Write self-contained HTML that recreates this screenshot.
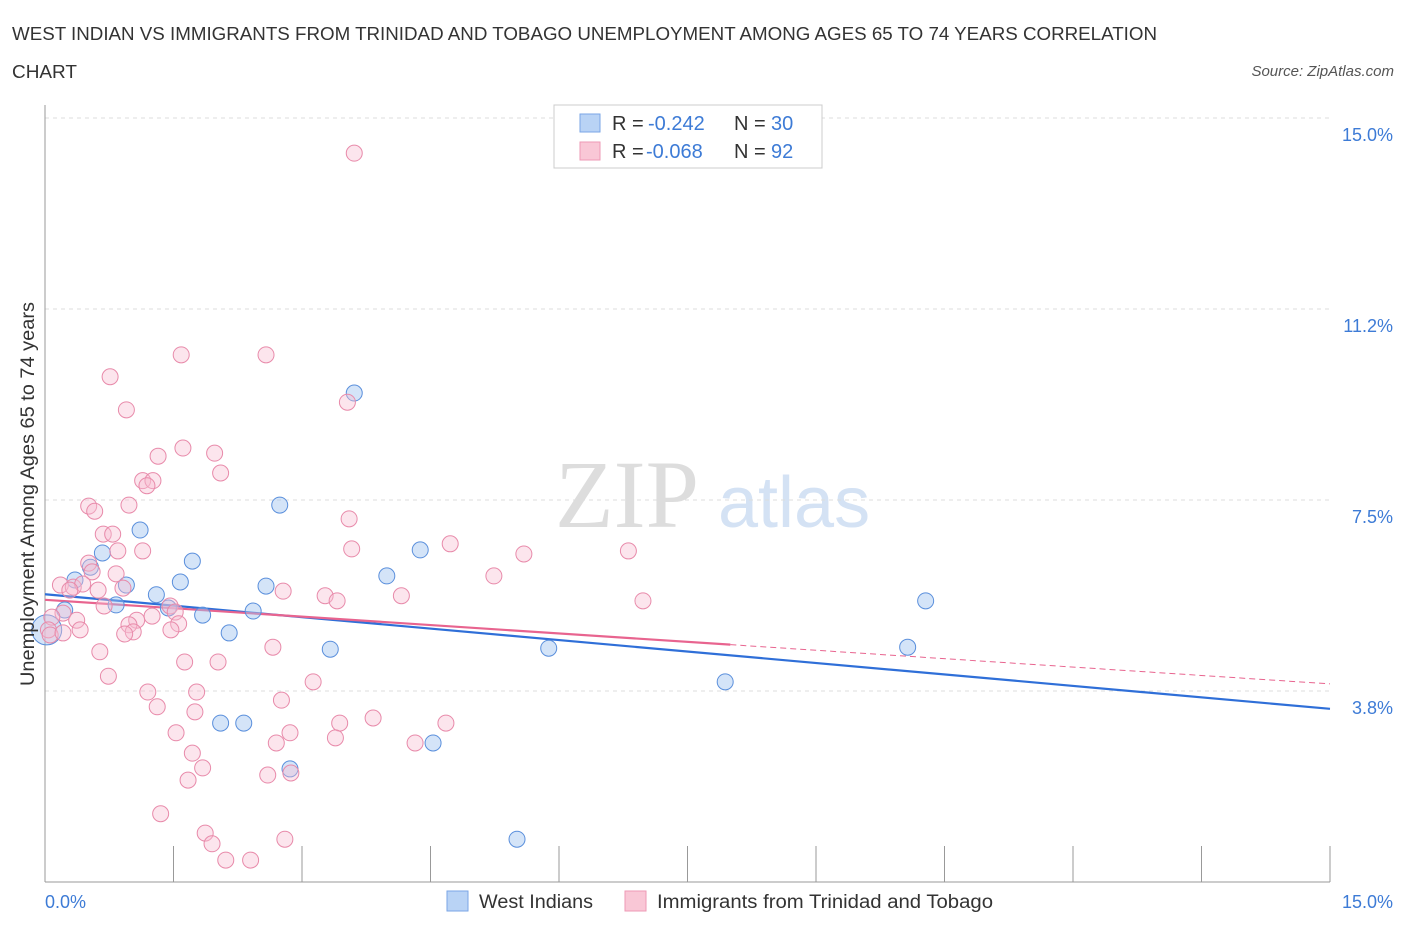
<!DOCTYPE html>
<html><head><meta charset="utf-8"><style>
body{margin:0;background:#fff;font-family:"Liberation Sans",sans-serif;}
</style></head><body>
<svg id="chart" width="1406" height="930" xmlns="http://www.w3.org/2000/svg" font-family="Liberation Sans, sans-serif">
<text x="12" y="40" font-size="18.5" fill="#333" textLength="1145" lengthAdjust="spacingAndGlyphs">WEST INDIAN VS IMMIGRANTS FROM TRINIDAD AND TOBAGO UNEMPLOYMENT AMONG AGES 65 TO 74 YEARS CORRELATION</text>
<text x="12" y="78" font-size="18.5" fill="#333" textLength="65" lengthAdjust="spacingAndGlyphs">CHART</text>
<text x="1394" y="76" font-size="15" fill="#555" text-anchor="end" font-style="italic">Source: ZipAtlas.com</text>
<text x="555" y="527" font-size="96" fill="#ddd" font-family="Liberation Serif, serif">ZIP</text>
<text x="718" y="527" font-size="72" fill="#d4e2f4">atlas</text>
<g id="grid"></g><g id="axes"></g><g id="lines"></g><g id="points"></g>
<text transform="translate(34,494) rotate(-90)" font-size="19" fill="#333" text-anchor="middle" textLength="384" lengthAdjust="spacingAndGlyphs">Unemployment Among Ages 65 to 74 years</text>
<text x="45" y="908" font-size="18" fill="#3d7bd6">0.0%</text>
<text x="1393" y="908" font-size="18" fill="#3d7bd6" text-anchor="end">15.0%</text>
<g>
<rect x="554" y="105" width="268" height="63" fill="#fff" stroke="#ccc"/>
<rect x="580" y="114" width="20" height="18" fill="#b9d3f5" stroke="#7aa6e6"/>
<rect x="580" y="142" width="20" height="18" fill="#f9c7d6" stroke="#ee9ab5"/>
<text x="612" y="130" font-size="20" fill="#333">R =</text>
<text x="648" y="130" font-size="20" fill="#3d7bd6">-0.242</text>
<text x="734" y="130" font-size="20" fill="#333">N =</text>
<text x="771" y="130" font-size="20" fill="#3d7bd6">30</text>
<text x="612" y="158" font-size="20" fill="#333">R =</text>
<text x="646" y="158" font-size="20" fill="#3d7bd6">-0.068</text>
<text x="734" y="158" font-size="20" fill="#333">N =</text>
<text x="771" y="158" font-size="20" fill="#3d7bd6">92</text>
</g>
<g>
<rect x="447" y="891" width="21" height="20" fill="#b9d3f5" stroke="#7aa6e6"/>
<text x="479" y="908" font-size="19" fill="#333" textLength="114" lengthAdjust="spacingAndGlyphs">West Indians</text>
<rect x="625" y="891" width="21" height="20" fill="#f9c7d6" stroke="#ee9ab5"/>
<text x="657" y="908" font-size="19" fill="#333" textLength="336" lengthAdjust="spacingAndGlyphs">Immigrants from Trinidad and Tobago</text>
</g>
</svg>
<script>
const yTicks=[3.75,7.5,11.25,15];
const yTickLabels=["3.8%","7.5%","11.2%","15.0%"];
const xTicks=[0,1.5,3,4.5,6,7.5,9,10.5,12,13.5,15];
const blueX=[0.02,0.23,0.35,0.67,0.53,0.83,0.95,1.11,1.30,1.44,1.58,1.72,1.84,2.15,2.05,2.32,2.43,2.58,2.74,2.86,3.33,3.61,3.99,4.38,4.53,5.51,5.88,7.94,10.07,10.28];
const blueY=[4.95,5.34,5.93,6.46,6.18,5.44,5.83,6.91,5.64,5.38,5.89,6.30,5.24,4.89,3.12,3.12,5.32,5.81,7.40,2.22,4.57,9.60,6.01,6.52,2.73,0.84,4.59,3.93,4.61,5.52];
const pinkX=[3.61,1.59,2.58,0.76,0.95,3.53,1.61,1.32,1.98,2.05,1.14,1.26,1.19,0.51,0.58,0.98,3.55,0.68,0.79,0.85,1.14,3.58,4.73,5.59,6.81,0.51,0.55,0.83,5.24,0.18,0.33,0.44,0.29,0.62,0.91,2.78,3.27,4.16,3.41,6.98,0.69,1.46,1.52,1.25,0.21,0.08,0.37,1.07,0.98,1.56,0.04,0.41,1.03,0.93,1.47,0.06,0.21,2.66,0.64,1.63,2.02,0.74,3.13,1.20,1.77,1.31,2.76,1.75,3.83,3.44,4.68,1.53,2.86,3.39,2.70,4.32,1.72,1.84,2.60,2.87,1.67,1.35,1.87,1.95,2.80,2.11,2.40];
const pinkY=[14.31,10.35,10.35,9.92,9.27,9.42,8.52,8.36,8.42,8.03,7.88,7.88,7.78,7.38,7.28,7.40,7.13,6.83,6.83,6.50,6.50,6.54,6.64,6.44,6.50,6.26,6.09,6.05,6.01,5.83,5.79,5.85,5.73,5.73,5.77,5.71,5.62,5.62,5.52,5.52,5.42,5.42,5.30,5.22,5.28,5.20,5.14,5.14,5.05,5.07,4.95,4.95,4.91,4.87,4.95,4.85,4.89,4.61,4.52,4.32,4.32,4.04,3.93,3.73,3.73,3.44,3.57,3.34,3.22,3.12,3.12,2.93,2.93,2.83,2.73,2.73,2.53,2.24,2.10,2.14,2.00,1.34,0.96,0.75,0.84,0.43,0.43];
const blueTrend=[5.65,3.40];
const pinkTrend=[5.54,3.89];
const pinkSolidEnd=8.0;
const NS="http://www.w3.org/2000/svg";
const X=v=>45+v*(1285/15);
const Y=v=>882-v*(573/11.25);
function mk(tag,attrs,parent){const e=document.createElementNS(NS,tag);for(const k in attrs)e.setAttribute(k,attrs[k]);parent.appendChild(e);return e;}
const grid=document.getElementById('grid'),axes=document.getElementById('axes'),lines=document.getElementById('lines'),pts=document.getElementById('points');
yTicks.forEach((t,i)=>{
 const l=mk('line',{x1:45,x2:1330,y1:Y(t),y2:Y(t),stroke:'#ddd','stroke-dasharray':'4,4'},grid);
 
 
 const tx=mk('text',{x:1393,y:Y(t)+23,'font-size':18,fill:'#3d7bd6','text-anchor':'end'},grid);
 tx.textContent=yTickLabels[i];
 
 
});
const ya=mk('line',{x1:45,x2:45,y1:105,y2:882,stroke:'#999'},axes);


const xa=mk('line',{x1:45,x2:1330,y1:882,y2:882,stroke:'#999'},axes);


xTicks.forEach(t=>{
 const l=mk('line',{x1:X(t),x2:X(t),y1:846,y2:882,stroke:'#999'},axes);
 
 
});
const bl=mk('line',{x1:X(0),y1:Y(blueTrend[0]),x2:X(15),y2:Y(blueTrend[1]),stroke:'#2f6fd8','stroke-width':2.2},lines);


const pAt=x=>pinkTrend[0]+(pinkTrend[1]-pinkTrend[0])*x/15;
const pl=mk('line',{x1:X(0),y1:Y(pinkTrend[0]),x2:X(pinkSolidEnd),y2:Y(pAt(pinkSolidEnd)),stroke:'#e8648f','stroke-width':2.2},lines);


const pd=mk('line',{x1:X(pinkSolidEnd),y1:Y(pAt(pinkSolidEnd)),x2:X(15),y2:Y(pinkTrend[1]),stroke:'#e8648f','stroke-width':1,'stroke-dasharray':'6,4'},lines);


blueX.forEach((x,i)=>{
 const c=mk('circle',{cx:X(x),cy:Y(blueY[i]),r:i===0?15:8,fill:'rgba(160,196,240,0.45)',stroke:'#5a8fdc','stroke-width':1},pts);
 
 
});
pinkX.forEach((x,i)=>{
 const c=mk('circle',{cx:X(x),cy:Y(pinkY[i]),r:8,fill:'rgba(248,190,210,0.4)',stroke:'#e88aaa','stroke-width':1},pts);
 
 
});
</script>
</body></html>
